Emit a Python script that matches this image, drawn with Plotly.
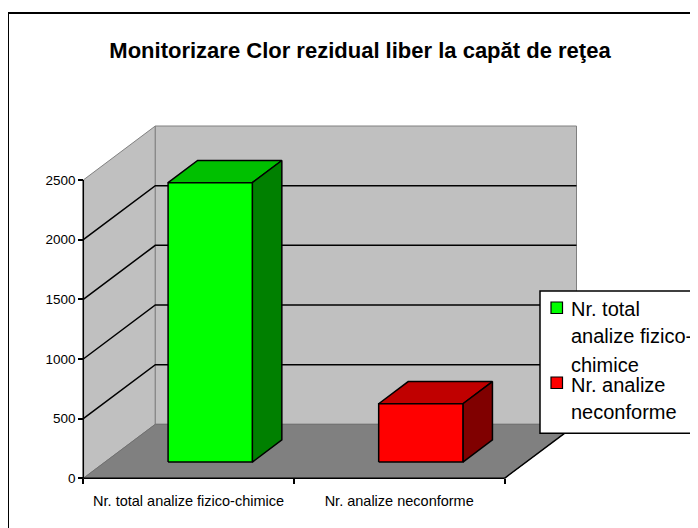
import plotly.graph_objects as go

# ---------------- data ----------------
categories = ["Nr. total analize fizico-chimice", "Nr. analize neconforme"]
values = [2342, 489]
front_colors = ["#00FF00", "#FF0000"]
top_colors = ["#00C000", "#C00000"]
side_colors = ["#008000", "#800000"]
y_ticks = [0, 500, 1000, 1500, 2000, 2500]
legend_lines = [["Nr. total", "analize fizico-", "chimice"],
                ["Nr. analize", "neconforme"]]
title_text = "Monitorizare Clor rezidual liber la capăt de reţea"

# ---------------- geometry (window pixels) ----------------
OFF = 8               # page body margin
W, H = 690, 520
X0_PX = 83.3          # pixel x of category coordinate 0 (front plane)
X_UNIT = 210.6        # pixels per category
Y0_PX = 478.3         # pixel y of value 0 (front plane)
Y_UNIT = 298.3 / 2500 # pixels per value unit
DEPTH_DX_PX, DEPTH_DY_PX = 72.0, 54.0
BAR_FRONT, BAR_DEPTH = 0.30, 0.41   # fraction of full depth
BAR_WIDTH = 0.40                    # in category units

ddx = DEPTH_DX_PX / X_UNIT
ddy = DEPTH_DY_PX / Y_UNIT
ymax = y_ticks[-1]
ncat = len(categories)

DOM_X_PX = (55, 640)
DOM_Y_PX = (100, 495)  # top, bottom
x_range = [(DOM_X_PX[0] - X0_PX) / X_UNIT, (DOM_X_PX[1] - X0_PX) / X_UNIT]
y_range = [-(DOM_Y_PX[1] - Y0_PX) / Y_UNIT, (Y0_PX - DOM_Y_PX[0]) / Y_UNIT]

def px(x):
    return (x - OFF) / W

def py(y):
    return 1 - (y - OFF) / H

FONT = "Liberation Sans, Arial, sans-serif"
fig = go.Figure()

def poly(xs, ys, fill, line_color, lw=1.0):
    fig.add_trace(go.Scatter(
        x=xs + [xs[0]], y=ys + [ys[0]], mode="lines", fill="toself",
        fillcolor=fill, line=dict(color=line_color, width=lw),
        hoverinfo="skip", showlegend=False))

def line(xs, ys, color, lw):
    fig.add_trace(go.Scatter(
        x=xs, y=ys, mode="lines", line=dict(color=color, width=lw),
        hoverinfo="skip", showlegend=False))

# walls and floor
poly([0, 0, ddx, ddx], [0, ymax, ymax + ddy, ddy], "#C0C0C0", "#808080")
poly([ddx, ddx, ncat + ddx, ncat + ddx], [ddy, ymax + ddy, ymax + ddy, ddy],
     "#C0C0C0", "#808080")
poly([0, ncat, ncat + ddx, ddx], [0, 0, ddy, ddy], "#808080", "#707070")
line([ncat, ncat + ddx], [0, ddy], "black", 1.5)

# gridlines
for v in y_ticks[1:-1]:
    line([0, ddx, ncat + ddx], [v, v + ddy, v + ddy], "black", 1.5)

# bars
ox, oy = BAR_DEPTH * ddx, BAR_DEPTH * ddy
for i, v in enumerate(values):
    cx = i + 0.5 + BAR_FRONT * ddx
    xl, xr = cx - BAR_WIDTH / 2, cx + BAR_WIDTH / 2
    yb = BAR_FRONT * ddy
    yt = v + yb
    poly([xl, xr, xr + ox, xl + ox], [yt, yt, yt + oy, yt + oy],
         top_colors[i], "black", 1.5)
    poly([xr, xr + ox, xr + ox, xr], [yb, yb + oy, yt + oy, yt],
         side_colors[i], "black", 1.5)
    poly([xl, xr, xr, xl], [yb, yb, yt, yt], front_colors[i], "black", 1.5)

# axis lines
line([0, ncat], [0, 0], "black", 1.5)
line([0, 0], [0, ymax], "black", 1.5)

shapes = []
# outer chart frame
shapes.append(dict(type="rect", xref="paper", yref="paper",
                   x0=px(8), x1=px(720), y0=py(545), y1=py(13),
                   line=dict(color="black", width=2), fillcolor="rgba(0,0,0,0)",
                   layer="above"))
# legend box (continues past the window edge)
LEG_L, LEG_T, LEG_B = 540, 291, 433.3
LEG_R = 760
shapes.append(dict(type="rect", xref="paper", yref="paper",
                   x0=px(LEG_L), x1=px(LEG_R), y0=py(LEG_B), y1=py(LEG_T),
                   line=dict(color="black", width=1.5), fillcolor="white",
                   layer="above"))

annotations = []
LEG_FS = 20
baselines = [[315.7, 343.3, 371.7], [391.7, 419.3]]
marker_tops = [302, 377]
for i, lines_ in enumerate(legend_lines):
    shapes.append(dict(type="rect", xref="paper", yref="paper",
                       x0=px(551), x1=px(562.5),
                       y0=py(marker_tops[i] + 11.5), y1=py(marker_tops[i]),
                       line=dict(color="black", width=1.2),
                       fillcolor=front_colors[i], layer="above"))
    for j, txt in enumerate(lines_):
        annotations.append(dict(
            text=txt, xref="paper", yref="paper", x=px(569), xanchor="left",
            y=py(baselines[i][j] - 0.36 * LEG_FS), yanchor="middle",
            showarrow=False, font=dict(family=FONT, size=LEG_FS, color="black")))

fig.update_layout(
    width=W, height=H,
    margin=dict(l=0, r=0, t=0, b=0),
    paper_bgcolor="white", plot_bgcolor="rgba(0,0,0,0)",
    title=dict(text="<b>" + title_text + "</b>", xref="paper", yref="paper",
               x=px(360), xanchor="center", y=py(50), yanchor="middle",
               font=dict(family=FONT, size=22, color="black")),
    xaxis=dict(domain=[px(DOM_X_PX[0]), px(DOM_X_PX[1])], range=x_range,
               anchor="free", position=py(Y0_PX),
               tickmode="array", tickvals=[i + 0.5 for i in range(ncat)],
               ticktext=categories, ticks="", ticklabelstandoff=12,
               minor=dict(tickmode="array", tickvals=list(range(ncat + 1)),
                          ticks="outside", ticklen=5, tickwidth=1.5,
                          tickcolor="black", showgrid=False),
               showgrid=False, zeroline=False, showline=False,
               tickfont=dict(family=FONT, size=14.5, color="black")),
    yaxis=dict(domain=[py(DOM_Y_PX[1]), py(DOM_Y_PX[0])], range=y_range,
               anchor="free", position=px(X0_PX),
               tickmode="array", tickvals=y_ticks,
               ticks="outside", ticklen=5, tickwidth=1.5, tickcolor="black",
               showgrid=False, zeroline=False, showline=False,
               tickfont=dict(family=FONT, size=13.5, color="black")),
    shapes=shapes, annotations=annotations,
    showlegend=False,
)

fig.write_html("out.html")
